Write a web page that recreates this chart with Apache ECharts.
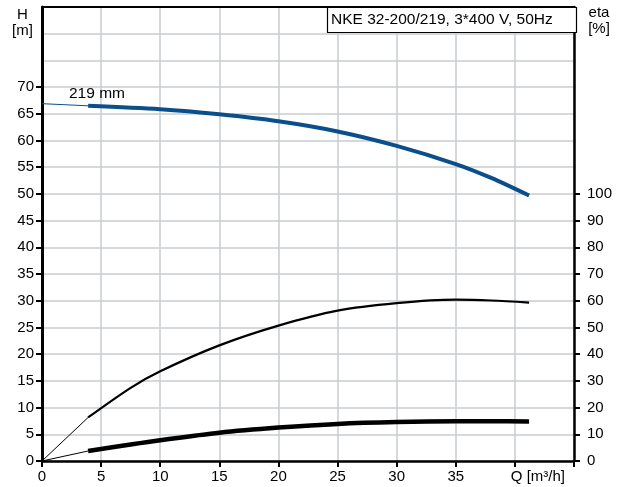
<!DOCTYPE html>
<html>
<head>
<meta charset="utf-8">
<script src="https://cdn.jsdelivr.net/npm/echarts@6/dist/echarts.min.js"></script>
<style>
html,body{margin:0;padding:0;background:#fff;}
#c{width:622px;height:487px;}
</style>
</head>
<body>
<div id="c"></div>
<script>
// Flow Q [m3/h] and curve values
const headMain = [[3.9,66.5],[10,65.85],[15,64.9],[20,63.6],[25,61.7],[30,59.0],[35,55.6],[38,53.0],[41.2,49.7]];
const headLead = [[0,66.9],[3.9,66.5]];
const etaMain = [[3.9,16.3],[7.5,27.4],[10,33.6],[15,43.3],[20,50.7],[25,56.3],[30,59.1],[35,60.4],[38,60.1],[41.2,59.3]];
const etaLead = [[0,0],[3.9,16.3]];
const powerMain = [[3.9,1.87],[7.5,3.1],[10,3.9],[15,5.3],[20,6.25],[25,6.95],[30,7.3],[35,7.43],[38,7.43],[41.2,7.4]];
const powerLead = [[0,0],[3.9,1.87]];
const hTicks = [0,5,10,15,20,25,30,35,40,45,50,55,60,65,70];
const etaTicks = [0,10,20,30,40,50,60,70,80,90,100];
const titleText = 'NKE 32-200/219, 3*400 V, 50Hz';
const curveLabel = '219 mm';

const chart = echarts.init(document.getElementById('c'));
const font = 'Liberation Sans';
const blue = '#0a4f8c';
const gridColor = '#c9ccd0';

chart.setOption({
  animation:false,
  title:[
    {text:'H\n[m]',left:22.5,top:7,textAlign:'center',padding:0,textStyle:{color:'#000',fontSize:15,fontWeight:'normal',fontFamily:font,lineHeight:16}},
    {text:'eta\n[%]',left:599,top:5,textAlign:'center',padding:0,textStyle:{color:'#000',fontSize:15,fontWeight:'normal',fontFamily:font,lineHeight:16}},
    {text:titleText,left:327,top:7,padding:[4,24,4,4],backgroundColor:'#fff',borderColor:'#000',borderWidth:1.2,textStyle:{color:'#000',fontSize:15.5,fontWeight:'normal',fontFamily:font,lineHeight:18}},
    {text:curveLabel,left:69,top:85,padding:0,textStyle:{color:'#000',fontSize:15.5,fontWeight:'normal',fontFamily:font,lineHeight:18}}
  ],
  grid:{left:42,right:48,top:7,bottom:26},
  xAxis:[{
    type:'value',min:0,max:45,interval:5,position:'bottom',
    axisLine:{show:true,onZero:false,lineStyle:{color:'#000',width:2.5}},
    axisTick:{show:true,length:6,lineStyle:{color:'#000',width:2}},
    axisLabel:{color:'#000',fontSize:15,fontFamily:font,margin:8,
      formatter:function(v){ if(v===45) return ''; if(v===40) return '{q|Q [m³/h]}'; return String(v);},
      rich:{q:{fontSize:15,fontFamily:font,color:'#000',padding:[0,0,0,46]}}},
    splitLine:{show:true,lineStyle:{color:gridColor,width:1.5}}
  },{
    type:'value',min:0,max:45,interval:5,position:'top',
    axisLine:{show:true,onZero:false,lineStyle:{color:'#000',width:2}},
    axisTick:{show:false},axisLabel:{show:false},splitLine:{show:false}
  }],
  yAxis:[{
    type:'value',min:0,max:85,interval:5,position:'left',
    axisLine:{show:true,onZero:false,lineStyle:{color:'#000',width:3}},
    axisTick:{show:true,length:6,customValues:hTicks,lineStyle:{color:'#000',width:2}},
    axisLabel:{color:'#000',fontSize:15,fontFamily:font,margin:8,customValues:hTicks},
    splitLine:{show:false}
  },{
    type:'value',min:0,max:170,interval:10,position:'right',
    axisLine:{show:true,onZero:false,lineStyle:{color:'#000',width:2.5}},
    axisTick:{show:true,length:6,customValues:etaTicks,lineStyle:{color:'#000',width:2}},
    axisLabel:{color:'#000',fontSize:15,fontFamily:font,margin:13,customValues:etaTicks},
    splitLine:{show:false}
  },{
    type:'value',min:0,max:85,interval:5,position:'left',
    axisLine:{show:false},axisTick:{show:false},axisLabel:{show:false},
    splitLine:{show:true,lineStyle:{color:gridColor,width:1.5}}
  }],
  series:[
    {type:'line',data:headLead,yAxisIndex:0,symbol:'none',z:3,lineStyle:{color:blue,width:1}},
    {type:'line',data:headMain,yAxisIndex:0,symbol:'none',z:3,smooth:0.3,lineStyle:{color:blue,width:4}},
    {type:'line',data:etaLead,yAxisIndex:1,symbol:'none',z:3,lineStyle:{color:'#000',width:1}},
    {type:'line',data:etaMain,yAxisIndex:1,symbol:'none',z:3,smooth:0.3,lineStyle:{color:'#000',width:2.2}},
    {type:'line',data:powerLead,yAxisIndex:0,symbol:'none',z:3,lineStyle:{color:'#000',width:1}},
    {type:'line',data:powerMain,yAxisIndex:0,symbol:'none',z:3,smooth:0.3,lineStyle:{color:'#000',width:4.5}}
  ]
});
</script>
</body>
</html>
